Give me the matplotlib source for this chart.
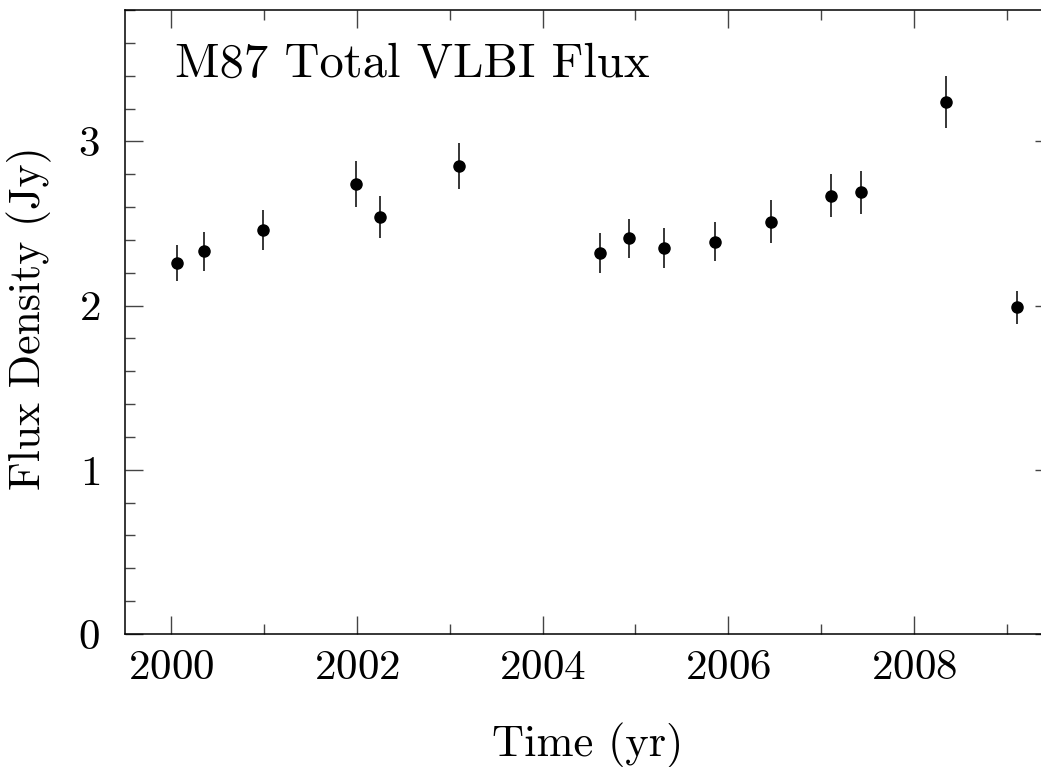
import numpy as np
import matplotlib as mpl
mpl.use("Agg")
import matplotlib.pyplot as plt
from matplotlib.ticker import MultipleLocator

# epochs (yr), total flux (Jy), 1-sigma errors (Jy)
epoch = [2000.06, 2000.35, 2000.99, 2001.99, 2002.25, 2003.10,
         2004.62, 2004.93, 2005.31, 2005.86, 2006.46, 2007.11,
         2007.43, 2008.35, 2009.11]
flux = [2.26, 2.33, 2.46, 2.74, 2.54, 2.85,
        2.32, 2.41, 2.35, 2.39, 2.51, 2.67,
        2.69, 3.24, 1.99]
flux_err = [0.11, 0.12, 0.12, 0.14, 0.13, 0.14,
            0.12, 0.12, 0.12, 0.12, 0.13, 0.13,
            0.13, 0.16, 0.10]

W, H = 1041, 767
plt.rcParams["font.family"] = ["cmr10", "DejaVu Serif"]
plt.rcParams["axes.formatter.use_mathtext"] = True

fig = plt.figure(figsize=(W / 100, H / 100), dpi=100)
ax = fig.add_axes([125 / W, (H - 634) / H, (1053 - 125) / W, (634 - 10) / H])

ax.errorbar(epoch, flux, yerr=flux_err, fmt="o", color="black",
            markersize=8, elinewidth=1.1, capsize=0)

ax.set_xlim(1999.5, 2009.5)
ax.set_ylim(0, 3.8)
ax.xaxis.set_major_locator(MultipleLocator(2))
ax.xaxis.set_minor_locator(MultipleLocator(1))
ax.yaxis.set_major_locator(MultipleLocator(1))
ax.yaxis.set_minor_locator(MultipleLocator(0.2))
ax.tick_params(which="both", direction="in", top=True, right=True,
               color="#444444", width=1.0)
ax.tick_params(which="major", length=13)
ax.tick_params(which="minor", length=7)
ax.tick_params(axis="x", which="major", labelsize=31, pad=11)
ax.tick_params(axis="y", which="major", labelsize=31, pad=18)
for sp in ax.spines.values():
    sp.set_linewidth(1.1)

ax.text(0.0535, 0.8926, "M87 Total VLBI Flux", transform=ax.transAxes,
        ha="left", va="baseline", fontsize=35)

fig.text(588 / W, 1 - 745 / H, "Time (yr)", ha="center", va="center", fontsize=32)
fig.text(29 / W, 1 - 318 / H, "Flux Density (Jy)", ha="center", va="center",
         rotation=90, fontsize=31.5)

fig.savefig("out.png", dpi=100)
